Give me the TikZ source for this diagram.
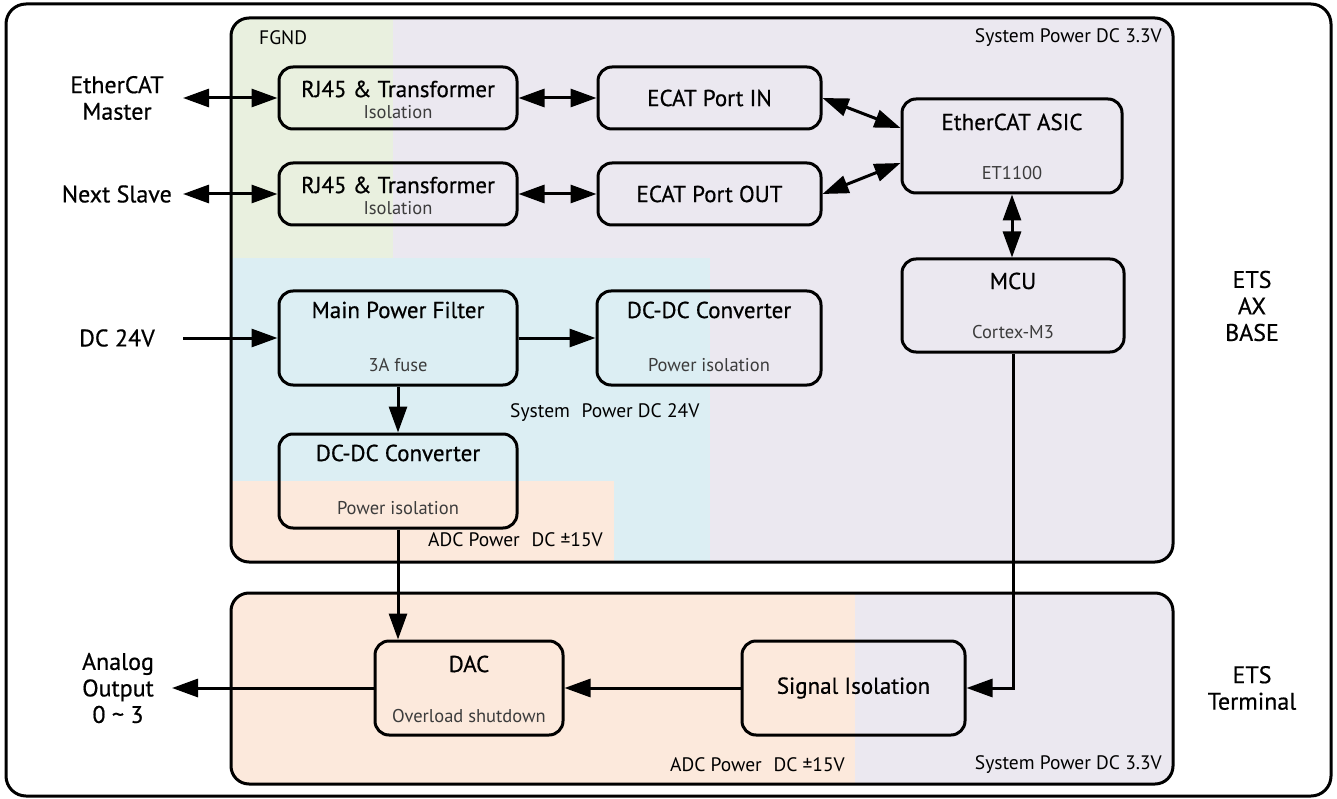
\documentclass[tikz,border=0pt]{standalone}
\usepackage{fontspec}
\setmainfont{PT Sans}
\newfontfamily\heavyfont[FakeBold=0.6]{PT Sans}
\usetikzlibrary{arrows.meta}
\definecolor{cGreen}{HTML}{E9F0DF}
\definecolor{cLav}{HTML}{EBE8F0}
\definecolor{cBlue}{HTML}{DCEEF3}
\definecolor{cPeach}{HTML}{FCE9DC}
\definecolor{subtxt}{HTML}{3C3C3C}
\tikzset{
  blk/.style={draw, line width=3pt, rounded corners=14pt, inner sep=0pt},
  ttl/.style={font=\heavyfont\fontsize{23}{27}\selectfont, text=black, inner sep=0pt},
  subt/.style={font=\fontsize{18.5}{22}\selectfont, text=subtxt, inner sep=0pt},
  rlab/.style={font=\fontsize{19.5}{22}\selectfont, inner sep=0pt},
  lab/.style={font=\heavyfont\fontsize{24}{26.5}\selectfont, align=center, inner sep=0pt},
  conn/.style={line width=3pt},
  tip/.style={conn, -{Triangle[length=26pt,width=18pt]}},
  both/.style={conn, {Triangle[length=26pt,width=18pt]}-{Triangle[length=26pt,width=18pt]}},
  region/.style={draw, line width=3pt, rounded corners=18pt},
}
\begin{document}
\begin{tikzpicture}[x=1pt, y=-1pt]
\useasboundingbox (0,0) rectangle (1337,799);
% outer frame
\draw[line width=3pt, rounded corners=20pt] (6,4) rectangle (1331,796);

% upper region fills
\begin{scope}
  \clip[rounded corners=18pt] (231,18) rectangle (1173,562);
  \fill[cLav] (231,18) rectangle (1173,562);
  \fill[cGreen] (231,18) rectangle (393,258);
  \fill[cBlue] (231,258) rectangle (710,562);
  \fill[cPeach] (231,481) rectangle (614,562);
\end{scope}
\draw[region] (231,18) rectangle (1173,562);

% lower region fills
\begin{scope}
  \clip[rounded corners=18pt] (231,593) rectangle (1173,784);
  \fill[cPeach] (231,593) rectangle (855,784);
  \fill[cLav] (855,593) rectangle (1173,784);
\end{scope}
\draw[region] (231,593) rectangle (1173,784);

% region labels
\node[rlab, anchor=west] (fgnd) at (259,38) {FGND};
\node[rlab, anchor=east] (sp33) at (1162,38) {System Power DC 3.3V};
\node[rlab, anchor=west] (sp24) at (510,413) {System\hspace{0.6em}Power DC 24V};
\node[rlab, anchor=east] (adc1) at (603,540) {ADC Power\hspace{0.6em}DC ±15V};
\node[rlab, anchor=east] (adc2) at (845,765) {ADC Power\hspace{0.6em}DC ±15V};
\node[rlab, anchor=east] (sp33b) at (1162,765) {System Power DC 3.3V};

% blocks
\node[blk, minimum width=238pt, minimum height=62pt] (rj1) at (398,98) {};
\node[ttl] (rj1t) at ([yshift=9pt]rj1.center) {RJ45 \& Transformer};
\node[subt] (rj1s) at ([yshift=-14pt]rj1.center) {Isolation};

\node[blk, minimum width=238pt, minimum height=62pt] (rj2) at (398,194) {};
\node[ttl] (rj2t) at ([yshift=9pt]rj2.center) {RJ45 \& Transformer};
\node[subt] (rj2s) at ([yshift=-14pt]rj2.center) {Isolation};

\node[blk, ttl, minimum width=223pt, minimum height=62pt] (ecin) at (709.5,98) {ECAT Port IN};
\node[blk, ttl, minimum width=223pt, minimum height=62pt] (ecout) at (709.5,194) {ECAT Port OUT};

\node[blk, minimum width=220pt, minimum height=94pt] (asic) at (1012,146) {};
\node[ttl] (asict) at ([yshift=24pt]asic.center) {EtherCAT ASIC};
\node[subt] (asics) at ([yshift=-27pt]asic.center) {ET1100};

\node[blk, minimum width=222pt, minimum height=93pt] (mcu) at (1013,305.5) {};
\node[ttl] (mcut) at ([yshift=24.5pt]mcu.center) {MCU};
\node[subt] (mcus) at ([yshift=-26.5pt]mcu.center) {Cortex-M3};

\node[blk, minimum width=238pt, minimum height=94pt] (mpf) at (398,338) {};
\node[ttl] (mpft) at ([yshift=28pt]mpf.center) {Main Power Filter};
\node[subt] (mpfs) at ([yshift=-27pt]mpf.center) {3A fuse};

\node[blk, minimum width=224pt, minimum height=94pt] (dcr) at (709,338) {};
\node[ttl] (dcrt) at ([yshift=28pt]dcr.center) {DC-DC Converter};
\node[subt] (dcrs) at ([yshift=-27pt]dcr.center) {Power isolation};

\node[blk, minimum width=238pt, minimum height=94pt] (dcl) at (398,481) {};
\node[ttl] (dclt) at ([yshift=28pt]dcl.center) {DC-DC Converter};
\node[subt] (dcls) at ([yshift=-27pt]dcl.center) {Power isolation};

\node[blk, minimum width=188pt, minimum height=94pt] (dac) at (469,688) {};
\node[ttl] (dact) at ([yshift=24pt]dac.center) {DAC};
\node[subt] (dacs) at ([yshift=-28pt]dac.center) {Overload shutdown};

\node[blk, ttl, minimum width=223pt, minimum height=94pt] (sig) at (853.5,688) {Signal Isolation};

% outside labels
\node[lab] (master) at (117,98) {EtherCAT\\Master};
\node[lab, anchor=east] (next) at (172,194) {Next Slave};
\node[lab] (dc24) at (117,338) {DC 24V};
\node[lab] (aout) at (118,688) {Analog\\Output\\0 \textasciitilde{} 3};
\node[lab] (axbase) at (1252,306) {ETS\\AX\\BASE};
\node[lab] (term) at (1252,688) {ETS\\Terminal};

% free ends
\coordinate (pm) at (183,98);
\coordinate (pn) at (183,194);
\coordinate (p24) at (183,338);
\coordinate (pout) at (172,688);

% connectors
\draw[both] (pm) -- (rj1.west);
\draw[both] (pn) -- (rj2.west);
\draw[both] (rj1.east) -- (ecin.west);
\draw[both] (rj2.east) -- (ecout.west);
\draw[both] (ecin.east) -- ([yshift=18pt]asic.west);
\draw[both] (ecout.east) -- ([yshift=-17pt]asic.west);
\draw[both] (asic.south) -- (mcu.north -| asic.south);
\draw[tip] (p24) -- (mpf.west);
\draw[tip] (mpf.east) -- (dcr.west);
\draw[tip] (mpf.south) -- (dcl.north);
\draw[tip] (dcl.south) -- (dcl.south |- dac.north);
\draw[tip] (sig.west) -- (dac.east);
\draw[tip] (dac.west) -- (pout);
\draw[tip] (mcu.south) |- (sig.east);
\end{tikzpicture}
\end{document}
